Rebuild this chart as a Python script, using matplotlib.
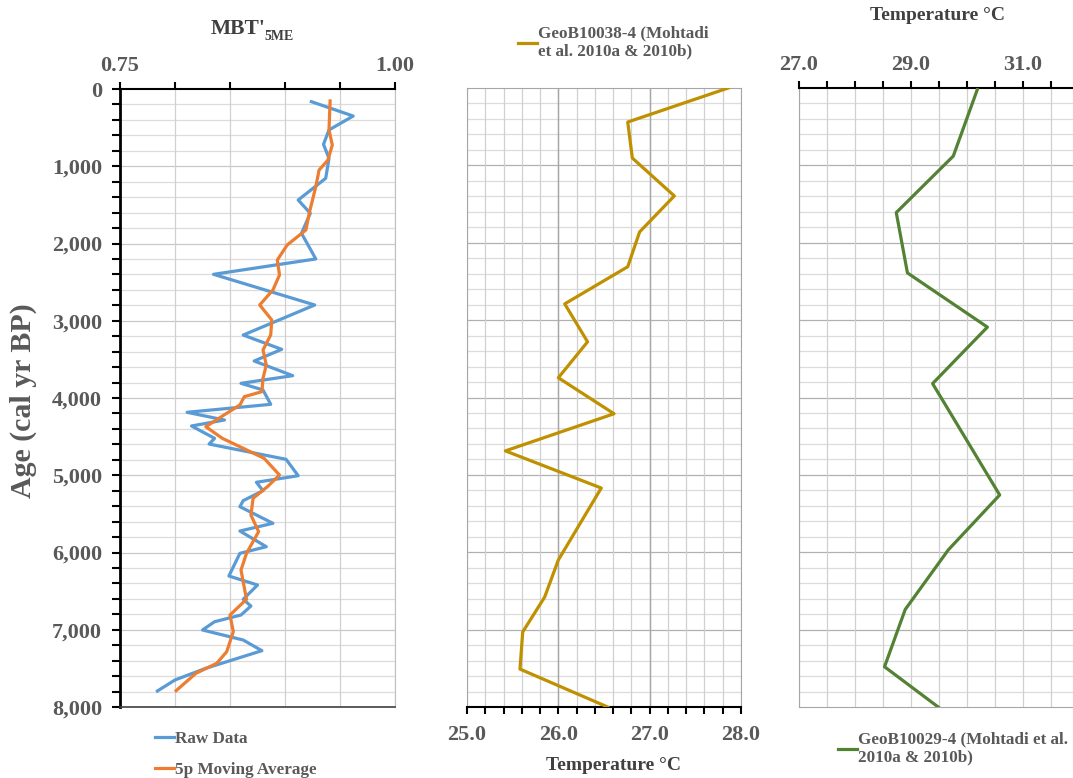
import numpy as np
import matplotlib
matplotlib.use("Agg")
import matplotlib.pyplot as plt
from matplotlib.lines import Line2D

plt.rcParams['font.family'] = ['Liberation Serif', 'DejaVu Serif']
plt.rcParams['font.weight'] = 'bold'
plt.rcParams['axes.labelweight'] = 'bold'

# MBT'5ME record (age in cal yr BP)
raw_age = [164, 350, 530, 716, 897, 1156, 1437, 1609, 1868, 2200, 2399, 2796, 3185, 3370,
           3521, 3711, 3810, 3896, 4082, 4185, 4285, 4362, 4522, 4596, 4794, 5006, 5091,
           5200, 5329, 5407, 5622, 5722, 5925, 6011, 6304, 6421, 6606, 6693, 6809, 6896,
           7003, 7133, 7271, 7499, 7650, 7793]
raw_mbt = [0.924, 0.962, 0.940, 0.935, 0.940, 0.937, 0.912, 0.923, 0.915, 0.928, 0.835,
           0.927, 0.862, 0.897, 0.872, 0.907, 0.860, 0.880, 0.887, 0.811, 0.845, 0.815,
           0.836, 0.831, 0.901, 0.912, 0.874, 0.880, 0.862, 0.859, 0.889, 0.859, 0.883,
           0.859, 0.849, 0.875, 0.862, 0.869, 0.860, 0.836, 0.825, 0.862, 0.879, 0.828,
           0.800, 0.784]

avg_age = [155, 530, 725, 920, 1049, 1264, 1609, 1825, 2019, 2214, 2408, 2602, 2796, 2990,
           3184, 3379, 3573, 3745, 3918, 3983, 4090, 4198, 4371, 4522, 4651, 4781, 4997,
           5148, 5298, 5515, 5730, 6011, 6227, 6606, 6809, 7025, 7284, 7434, 7564, 7789]
avg_mbt = [0.941, 0.940, 0.943, 0.939, 0.931, 0.928, 0.922, 0.919, 0.902, 0.893, 0.895,
           0.889, 0.877, 0.888, 0.887, 0.880, 0.883, 0.880, 0.879, 0.863, 0.859, 0.847,
           0.828, 0.843, 0.862, 0.881, 0.895, 0.884, 0.871, 0.869, 0.876, 0.865, 0.860,
           0.865, 0.850, 0.853, 0.847, 0.838, 0.819, 0.801]

# GeoB10038-4 SST
geo38_age = [0, 440, 905, 1395, 1860, 2310, 2790, 3280, 3745, 4210, 4690, 5170, 6100,
             6580, 7030, 7510, 8000]
geo38_temp = [27.86, 26.76, 26.81, 27.27, 26.89, 26.76, 26.07, 26.32, 26.00, 26.61, 25.42,
              26.47, 26.00, 25.85, 25.61, 25.58, 26.54]

# GeoB10029-4 SST
geo29_age = [20, 880, 1610, 2390, 3090, 3820, 5260, 5970, 6740, 7480, 8000]
geo29_temp = [30.19, 29.76, 28.74, 28.94, 30.37, 29.39, 30.59, 29.67, 28.90, 28.53, 29.49]

GRAY = '#595959'
DARK = '#404040'
BLUE = '#5b9bd5'
ORANGE = '#ed7d31'
GOLD = '#bf9000'
GREEN = '#548235'

W, H = 1073, 778
fig = plt.figure(figsize=(W / 100, H / 100), dpi=100)


def px_axes(left, right, top, bottom):
    return fig.add_axes([left / W, 1 - bottom / H, (right - left) / W, (bottom - top) / H])


def px_text(x, y, s, **kw):
    return fig.text(x / W, 1 - y / H, s, **kw)


def base_grid(ax, xmajor, xminor, ymajor_color):
    ax.set_ylim(8000, 0)
    ax.set_yticks(np.arange(0, 8001, 200), minor=True)
    ax.set_xticks(xminor, minor=True)
    for y in np.arange(200, 8000, 200):
        c = ymajor_color if y % 1000 == 0 else '#dcdcdc'
        ax.axhline(y, color=c, lw=0.9, zorder=0)
    for x in xminor:
        ax.axvline(x, color='#d0d0d0', lw=0.9, zorder=0)
    for x in xmajor:
        ax.axvline(x, color='#a6a6a6', lw=1.0, zorder=0)


legend_font = {'size': 12.3, 'weight': 'bold'}

# ---- panel 1: MBT'5ME ----
ax1 = px_axes(120, 395, 89, 707)
ax1.set_xlim(0.75, 1.00)
base_grid(ax1, [], np.arange(0.75, 1.001, 0.05), '#c8c8c8')
ax1.plot(raw_mbt, raw_age, color=BLUE, lw=2.3, zorder=3)
ax1.plot(avg_mbt, avg_age, color=ORANGE, lw=2.3, zorder=4)
ax1.xaxis.tick_top()
ax1.set_xticks(np.arange(0.75, 1.001, 0.05))
ax1.set_xticklabels(['0.75', '', '', '', '', '1.00'])
ax1.tick_params(axis='x', which='both', direction='out', length=5, width=1.5,
                colors='black', labelcolor=GRAY, labelsize=16, pad=4.5)
ax1.set_yticks(np.arange(0, 8001, 1000))
ax1.set_yticklabels(['{:,}'.format(v) for v in range(0, 8001, 1000)])
ax1.tick_params(axis='y', which='both', direction='out', length=6, width=1.5,
                colors='black', labelcolor=GRAY, labelsize=16, pad=7)
ax1.spines['left'].set_linewidth(2)
ax1.spines['top'].set_linewidth(1.5)
ax1.spines['bottom'].set_color('#404040')
ax1.spines['bottom'].set_linewidth(1.2)
ax1.spines['right'].set_color('#bfbfbf')
px_text(23, 401, 'Age (cal yr BP)', rotation=90, ha='center', va='center',
        fontsize=21.5, color=GRAY)
px_text(266, 29, "MBT'", ha='right', va='center', fontsize=15.5, color=DARK)
px_text(264, 37, "5ME", ha='left', va='center', fontsize=10, color=DARK)

h1 = [Line2D([], [], color=BLUE, lw=2.3), Line2D([], [], color=ORANGE, lw=2.3)]
fig.legend(h1, ['Raw Data', '5p Moving Average'], loc='upper left',
           bbox_to_anchor=(140 / W, 1 - 716 / H), frameon=False, handlelength=1.1,
           handletextpad=0.05, labelspacing=0.85, prop=legend_font, labelcolor=GRAY)

# ---- panel 2: GeoB10038-4 ----
ax2 = px_axes(467, 741, 88, 707)
ax2.set_xlim(25.0, 28.0)
base_grid(ax2, [26.0, 27.0], np.arange(25.0, 28.001, 0.2), '#b0b0b0')
ax2.plot(geo38_temp, geo38_age, color=GOLD, lw=2.3, zorder=3)
ax2.set_xticks(np.arange(25.0, 28.001, 1.0))
ax2.set_xticklabels(['25.0', '26.0', '27.0', '28.0'])
ax2.tick_params(axis='x', which='both', direction='out', length=5, width=1.5,
                colors='black', labelcolor=GRAY, labelsize=16, pad=8)
ax2.tick_params(axis='y', which='both', left=False, labelleft=False)
ax2.spines['bottom'].set_linewidth(1.5)
for s in ('left', 'right', 'top'):
    ax2.spines[s].set_color('#a6a6a6')
px_text(614, 765, 'Temperature °C', ha='center', va='center', fontsize=14, color=DARK)
ax2.legend([Line2D([], [], color=GOLD, lw=2.3)], ['GeoB10038-4 (Mohtadi\net al. 2010a & 2010b)'],
           loc='upper left', bbox_to_anchor=(503 / W, 1 - 10 / H),
           bbox_transform=fig.transFigure, frameon=False, handlelength=1.1,
           handletextpad=0.05, prop=legend_font, labelcolor=GRAY)

# ---- panel 3: GeoB10029-4 ----
ax3 = px_axes(799, 1078.5, 88, 707)
ax3.set_xlim(27.0, 32.0)
base_grid(ax3, [], np.arange(27.0, 32.001, 0.5), '#b0b0b0')
ax3.plot(geo29_temp, geo29_age, color=GREEN, lw=2.3, zorder=3)
ax3.xaxis.tick_top()
ax3.set_xticks(np.arange(27.0, 32.001, 0.5))
ax3.set_xticklabels(['27.0', '', '', '', '29.0', '', '', '', '31.0', '', ''])
ax3.tick_params(axis='x', which='both', direction='out', length=5, width=1.5,
                colors='black', labelcolor=GRAY, labelsize=16, pad=4.5)
ax3.tick_params(axis='y', which='both', left=False, labelleft=False)
ax3.spines['top'].set_linewidth(1.5)
for s in ('left', 'right', 'bottom'):
    ax3.spines[s].set_color('#a6a6a6')
px_text(937, 15, 'Temperature °C', ha='center', va='center', fontsize=14, color=DARK)
ax3.legend([Line2D([], [], color=GREEN, lw=2.3)], ['GeoB10029-4 (Mohtadi et al.\n2010a & 2010b)'],
           loc='upper left', bbox_to_anchor=(823 / W, 1 - 716 / H),
           bbox_transform=fig.transFigure, frameon=False, handlelength=1.1,
           handletextpad=0.05, prop=legend_font, labelcolor=GRAY)

fig.savefig('out.png', dpi=100)
